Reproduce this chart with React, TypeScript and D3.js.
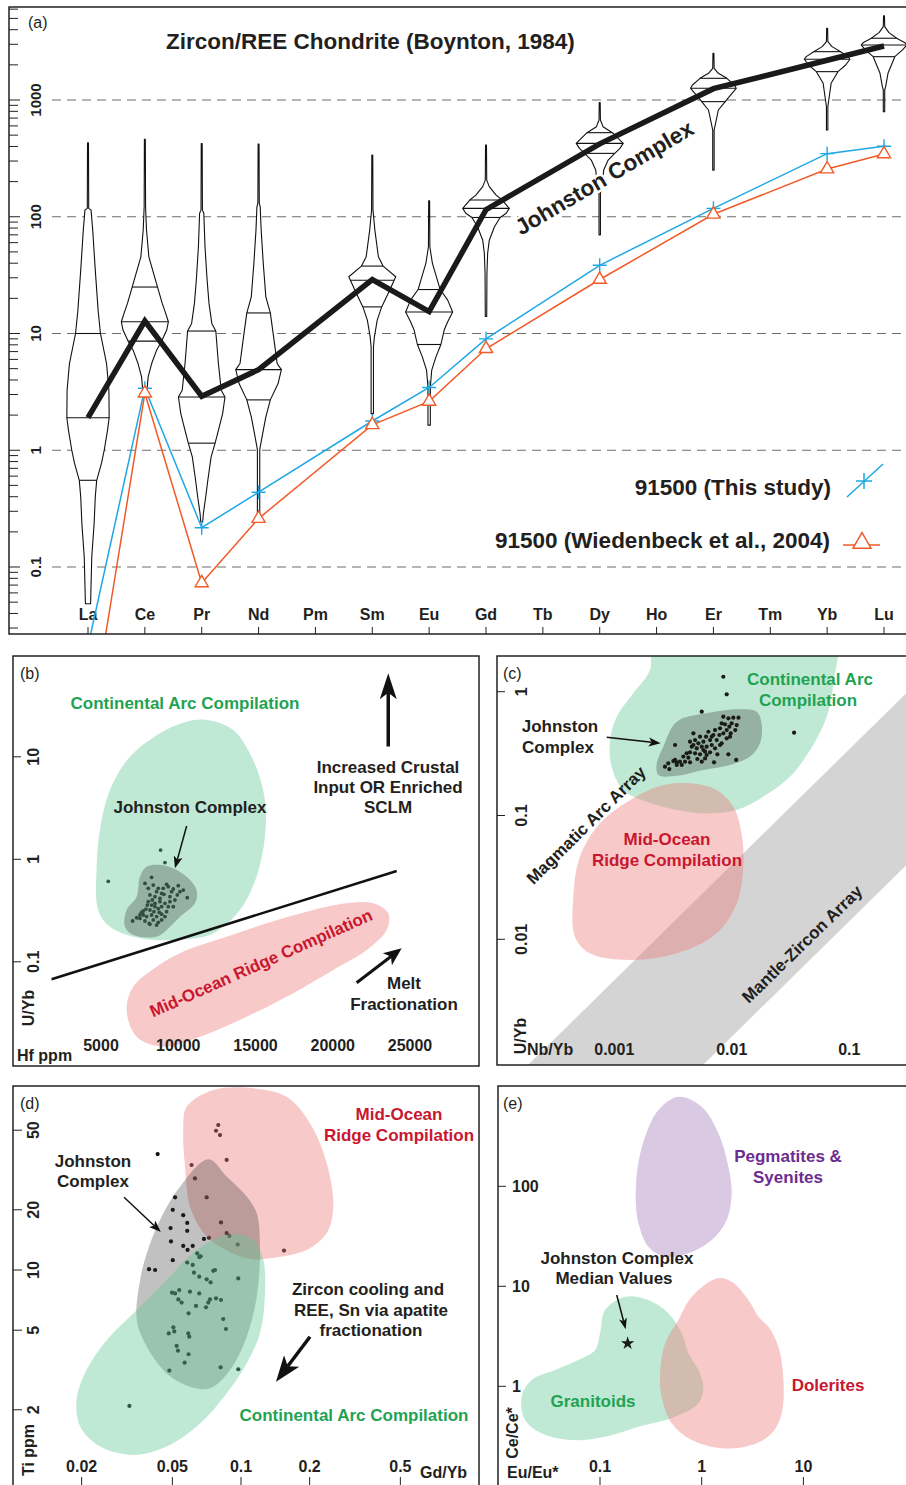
import React from 'react';
import * as d3 from 'd3';

type P = [number, number];

const FONT = '"Liberation Sans", Arial, Helvetica, sans-serif';
const INK = '#231f20';
const GREEN = '#5fc894';
const RED = '#ee7878';
const PURPLE = '#a078b9';
const GREEN_TXT = '#1fa352';
const RED_TXT = '#c8172f';
const PURPLE_TXT = '#6b2c91';
const BLUE = '#1ea7e4';
const ORANGE = '#f15a29';

// ---------- (a) zircon / chondrite REE ----------
const REE = ['La', 'Ce', 'Pr', 'Nd', 'Pm', 'Sm', 'Eu', 'Gd', 'Tb', 'Dy', 'Ho', 'Er', 'Tm', 'Yb', 'Lu'];
const reeMajorTicks = [0.1, 1, 10, 100, 1000];

const johnstonMedian: [string, number][] = [
  ['La', 1.9], ['Ce', 12.8], ['Pr', 2.9], ['Nd', 4.9], ['Sm', 29], ['Eu', 15.4],
  ['Gd', 115], ['Dy', 421], ['Er', 1250], ['Yb', 2190], ['Lu', 2900],
];
const study91500: [string, number][] = [
  ['La', 0.021], ['Ce', 3.4], ['Pr', 0.217], ['Nd', 0.437], ['Sm', 1.78], ['Eu', 3.45],
  ['Gd', 9.0], ['Dy', 38.4], ['Er', 118], ['Yb', 347], ['Lu', 402],
];
const wiedenbeck91500: [string, number][] = [
  ['La', 0.0031], ['Ce', 3.08], ['Pr', 0.073], ['Nd', 0.26], ['Sm', 1.65], ['Eu', 2.62],
  ['Gd', 7.4], ['Dy', 29], ['Er', 105], ['Yb', 256], ['Lu', 345],
];

// violin outlines: [normalised value, relative density]
const laViolin: P[] = [[431, .02], [118, .03], [114, .13], [76.9, .2], [34.9, .31], [15.8, .43], [10, .53], [5.53, .79], [3.27, .89], [1.9, .9], [1.48, .83], [1, .69], [0.768, .57], [0.553, .37], [0.398, .31], [0.235, .26], [0.122, .16], [0.0485, .11]];
const ceViolin: P[] = [[460, .02], [122, .03], [76.9, .07], [45.4, .17], [25, .54], [18.1, .74], [14.8, .89], [12.6, 1], [10.7, .93], [8.6, .71], [7.2, .5], [5.53, .29], [4.25, .14], [3.27, .09], [2.86, .07]];
const prViolin: P[] = [[424, .02], [114, .03], [107, .09], [55.3, .14], [28.6, .23], [18.1, .31], [12.2, .43], [10.5, .6], [5.53, .71], [3.27, .83], [2.86, .99], [2.06, .89], [1.48, .71], [1.15, .57], [0.877, .4], [0.553, .26], [0.398, .17], [0.287, .07], [0.243, .04]];
const ndViolin: P[] = [[420, .02], [130, .03], [122, .07], [76.9, .11], [39.8, .2], [20.6, .31], [15, .5], [9.36, .64], [5.53, .79], [4.9, .97], [3.73, .83], [2.7, .5], [1.93, .31], [1.48, .2], [1.07, .07], [1, .05], [0.251, .05]];
const smViolin: P[] = [[337, .02], [114, .03], [76.9, .11], [45.4, .26], [37.8, .46], [30.6, 1], [28.6, .93], [23.5, .74], [16.9, .4], [13, .21], [9.36, .09], [7.69, .05], [2.06, .05]];
const euViolin: P[] = [[137, .02], [55.3, .03], [39.8, .14], [30.6, .31], [23.8, .47], [19.3, .79], [15.3, 1], [12.6, .79], [10.7, .64], [8.05, .5], [6.31, .29], [4.85, .11], [3.49, .05], [1.64, .05]];
const gdViolin: P[] = [[411, .02], [206, .03], [181, .14], [153, .43], [139, .69], [118, .99], [107, .86], [98.6, .6], [82, .36], [63, .14], [48.5, .07], [32.7, .04], [14, .03]];
const dyViolin: P[] = [[950, .02], [674, .03], [591, .14], [525, .54], [454, .86], [425, 1], [385, .86], [349, .64], [306, .36], [251, .17], [181, .09], [158, .03], [70, .03]];
const erViolin: P[] = [[2512, .02], [1868, .03], [1693, .21], [1534, .57], [1344, .89], [1259, .97], [1140, .79], [968, .5], [821, .21], [631, .09], [553, .03], [251, .03]];
const ybViolin: P[] = [[4110, .02], [3162, .03], [2865, .21], [2594, .57], [2352, .89], [2232, .97], [1995, .79], [1749, .46], [1389, .17], [1000, .07], [877, .03], [553, .03]];
const luViolin: P[] = [[5250, .02], [4254, .03], [3776, .21], [3380, .54], [3097, .89], [2960, .97], [2683, .79], [2350, .46], [1693, .17], [1301, .07], [1218, .03], [794, .03]];

const violinQuartiles: [string, number[]][] = [
  ['La', [10, 1.9, 0.553]], ['Ce', [25, 12.6, 8.6]], ['Pr', [10.5, 2.86, 1.15]], ['Nd', [15, 4.9, 2.7]],
  ['Sm', [37.8, 28.6, 16.9]], ['Eu', [23.8, 15.3, 8.05]], ['Gd', [139, 118, 98.6]], ['Dy', [525, 425, 349]],
  ['Er', [1534, 1259, 968]], ['Yb', [2594, 2232, 1749]], ['Lu', [3380, 2960, 2350]],
];

// ---------- (b) U/Yb vs Hf ----------
const hfTicks = [5000, 10000, 15000, 20000, 25000];
const uybTicksB = [0.1, 1, 10];
const bJohnston: P[] = [
  [8275, 0.667], [7844, 0.582], [8060, 0.521], [8383, 0.561], [8707, 0.521], [8923, 0.465], [9246, 0.57], [9354, 0.541], [9678, 0.513], [10001, 0.553],
  [10109, 0.483], [10325, 0.501], [10583, 0.422], [8168, 0.449], [8491, 0.432], [8815, 0.416], [9074, 0.455], [9462, 0.432], [9785, 0.401], [8060, 0.386],
  [8275, 0.358], [8491, 0.372], [8815, 0.386], [9138, 0.372], [7909, 0.327], [8168, 0.32], [8426, 0.308], [8707, 0.33], [8923, 0.345], [9246, 0.308],
  [7736, 0.286], [7952, 0.276], [8275, 0.286], [8599, 0.276], [8923, 0.291], [7521, 0.265], [7844, 0.25], [8124, 0.237], [8383, 0.256], [8707, 0.243],
  [7046, 0.25], [7305, 0.269], [7628, 0.304], [9462, 0.386], [9678, 0.345], [9936, 0.449], [9570, 0.483], [9030, 0.521], [8599, 0.483], [8318, 0.401],
  [7995, 0.358], [7736, 0.313], [8168, 0.232], [8599, 0.228], [8923, 0.256], [9138, 0.276], [7521, 0.286], [8491, 0.345], [9354, 0.345], [8772, 0.304],
  [8858, 1.23], [9138, 0.93], [5471, 0.61],
];
const bArc: P[] = [[11840, 22.9], [13560, 18.3], [14850, 9.3], [15610, 3.8], [15610, 1.66], [15070, 0.68], [13990, 0.32], [12270, 0.19], [10540, 0.166], [7520, 0.17], [5580, 0.22], [4820, 0.32], [4720, 0.85], [4930, 1.93], [5580, 4.75], [6870, 10], [8820, 17], [10540, 22]];
const bJohnstonField: P[] = [[7955, 0.847], [9249, 0.86], [10544, 0.676], [11191, 0.5], [11081, 0.372], [10110, 0.275], [9249, 0.204], [8602, 0.176], [7087, 0.183], [6550, 0.22], [6660, 0.32], [7307, 0.432], [7521, 0.676]];
const bMor: P[] = [[22621, 0.372], [23592, 0.297], [23489, 0.204], [22194, 0.13], [20032, 0.0832], [17443, 0.0493], [14427, 0.0291], [11405, 0.0186], [9029, 0.0149], [7307, 0.0186], [6660, 0.0339], [7087, 0.0571], [8602, 0.0896], [10544, 0.13], [13133, 0.176], [15722, 0.2375], [18311, 0.308], [20900, 0.372]];
const bDivider: P[] = [[1800, 0.0675], [24140, 0.77]];

// ---------- (c) U/Yb vs Nb/Yb ----------
const nbTicks = [0.001, 0.01, 0.1];
const uybTicksC = [0.01, 0.1, 1];
const cJohnston: P[] = [
  [0.00847, 0.628], [0.00935, 0.609], [0.0103, 0.617], [0.0114, 0.617], [0.011, 0.538], [0.00998, 0.555], [0.00953, 0.522], [0.00875, 0.545], [0.0082, 0.555], [0.00794, 0.506],
  [0.00905, 0.49], [0.00979, 0.461], [0.0107, 0.49], [0.00966, 0.433], [0.00847, 0.461], [0.00783, 0.447], [0.0072, 0.49], [0.00697, 0.447], [0.00632, 0.475], [0.00604, 0.433],
  [0.00653, 0.407], [0.00573, 0.395], [0.00537, 0.433], [0.00519, 0.383], [0.00471, 0.461], [0.00487, 0.407], [0.00441, 0.395], [0.00456, 0.36], [0.00503, 0.349], [0.00555, 0.36],
  [0.00611, 0.36], [0.00675, 0.371], [0.0072, 0.349], [0.00794, 0.371], [0.0082, 0.383], [0.00754, 0.312], [0.00653, 0.324], [0.00592, 0.328], [0.00537, 0.312], [0.00487, 0.318],
  [0.00441, 0.324], [0.00427, 0.293], [0.00387, 0.299], [0.00362, 0.272], [0.0034, 0.269], [0.00318, 0.275], [0.00288, 0.264], [0.0027, 0.248], [0.00294, 0.237], [0.00329, 0.281],
  [0.004, 0.272], [0.00441, 0.269], [0.00375, 0.256], [0.0034, 0.256], [0.00555, 0.272], [0.00592, 0.289], [0.00706, 0.269], [0.00935, 0.312], [0.0109, 0.281], [0.00611, 0.308],
  [0.00329, 0.371], [0.00413, 0.318], [0.00509, 0.286], [0.00573, 0.338], [0.00905, 0.42], [0.00675, 0.433], [0.00471, 0.371], [0.00744, 0.407],
  [0.00847, 1.32], [0.00905, 0.952], [0.00555, 0.69], [0.0339, 0.467],
];
const cArc: P[] = [[0.0022, 3], [0.0731, 3], [0.0731, 1.17], [0.0643, 0.628], [0.0464, 0.338], [0.0313, 0.206], [0.0185, 0.142], [0.011, 0.111], [0.0061, 0.104], [0.0034, 0.111], [0.00189, 0.129], [0.00119, 0.161], [0.00095, 0.248], [0.00092, 0.407], [0.00105, 0.628], [0.00145, 0.97], [0.00201, 1.5]];
const cJohnstonField: P[] = [[0.0034, 0.573], [0.0061, 0.669], [0.01175, 0.721], [0.0163, 0.689], [0.0179, 0.556], [0.0174, 0.383], [0.0143, 0.299], [0.00966, 0.256], [0.00571, 0.233], [0.0034, 0.209], [0.00237, 0.212], [0.0023, 0.264], [0.00261, 0.36]];
const cMor: P[] = [[0.0044, 0.182], [0.00743, 0.161], [0.0103, 0.118], [0.0121, 0.0718], [0.01253, 0.0386], [0.011, 0.0195], [0.00743, 0.0112], [0.0034, 0.0077], [0.00136, 0.0068], [0.00062, 0.0077], [0.000463, 0.0105], [0.000448, 0.0221], [0.00051, 0.0465], [0.000755, 0.0865], [0.00136, 0.133], [0.00261, 0.176]];
const cMantleZircon: P[] = [[5.4e-5, 3.07e-4], [1, 2.94], [1, 0.12], [1.66e-3, 3.07e-4]];

// ---------- (d) Ti vs Gd/Yb ----------
const gdTicks = [0.02, 0.05, 0.1, 0.2, 0.5];
const tiTicks = [2, 5, 10, 20, 50];
const dJohnston: P[] = [
  [0.0795, 53.1], [0.0777, 49.7], [0.0809, 47.3], [0.0431, 38.0], [0.0865, 35.5], [0.0607, 33.5], [0.0628, 28.7], [0.0707, 23.1], [0.0514, 23.1], [0.0502, 20.0],
  [0.0558, 18.8], [0.0581, 17.2], [0.0581, 15.7], [0.0491, 16.2], [0.0817, 17.3], [0.0865, 15.3], [0.0889, 14.8], [0.0724, 14.5], [0.0688, 14.3], [0.0967, 13.4],
  [0.0493, 13.9], [0.0558, 13.2], [0.0583, 12.6], [0.0614, 13.2], [0.1544, 12.5], [0.0643, 12.1], [0.0656, 11.6], [0.0665, 11.7], [0.0502, 11.2], [0.0581, 10.9],
  [0.0614, 10.6], [0.0395, 10.1], [0.042, 10.0], [0.0756, 9.9], [0.0769, 10.0], [0.0622, 9.7], [0.0656, 9.26], [0.0707, 8.98], [0.0736, 8.68], [0.0973, 9.08],
  [0.0536, 7.94], [0.0498, 7.7], [0.0514, 7.64], [0.0597, 7.79], [0.0656, 7.64], [0.0531, 7.13], [0.0549, 6.87], [0.0731, 7.13], [0.0777, 7.22], [0.0817, 7.08],
  [0.0719, 6.87], [0.0702, 6.51], [0.0635, 6.61], [0.0589, 6.07], [0.0836, 5.69], [0.0859, 5.07], [0.0505, 5.17], [0.051, 4.93], [0.0482, 4.82], [0.0587, 4.82],
  [0.0593, 4.64], [0.0522, 4.17], [0.0529, 3.95], [0.0589, 3.79], [0.0566, 3.44], [0.0485, 3.14], [0.0814, 3.26], [0.0973, 3.19], [0.0324, 2.09],
];
const dMor: P[] = [[0.0578, 65.5], [0.0756, 79.4], [0.1132, 81], [0.1585, 73.5], [0.2007, 54.2], [0.2377, 34.2], [0.254, 20.7], [0.2377, 15.3], [0.1942, 12.6], [0.1297, 11.4], [0.1132, 11.3], [0.0925, 12.1], [0.0707, 14.7], [0.0598, 20.7], [0.0568, 32.9], [0.0558, 50.1]];
const dJohnstonField: P[] = [[0.0719, 35.8], [0.0866, 29.3], [0.1059, 23.3], [0.1172, 19.2], [0.1211, 13.1], [0.1172, 7.35], [0.1059, 4.64], [0.0895, 3.16], [0.0731, 2.56], [0.0598, 2.61], [0.0472, 3.04], [0.0386, 4.14], [0.0349, 5.62], [0.0361, 8.91], [0.0386, 12.1], [0.0441, 17.8], [0.054, 26.1]];
const dArc: P[] = [[0.0895, 15.1], [0.1132, 14.1], [0.1253, 11.2], [0.1274, 7.65], [0.1211, 4.83], [0.1059, 3.42], [0.0866, 2.42], [0.0661, 1.71], [0.0472, 1.31], [0.0337, 1.19], [0.0241, 1.31], [0.0197, 1.65], [0.019, 2.24], [0.021, 3.16], [0.0258, 4.47], [0.0349, 6.31], [0.0472, 8.91], [0.0639, 12.6]];

// ---------- (e) Ce/Ce* vs Eu/Eu* ----------
const euTicks = [0.1, 1, 10];
const ceTicks = [1, 10, 100];
const ePegmatites: P[] = [[0.59, 787], [1.0, 625], [1.459, 339], [1.83, 157], [1.97, 85.1], [1.76, 46], [1.254, 29], [0.74, 21.4], [0.436, 19.8], [0.299, 24.9], [0.239, 42.7], [0.2245, 72.9], [0.235, 157], [0.2777, 313], [0.375, 579]];
const eGranitoids: P[] = [[0.1766, 7.87], [0.299, 7.29], [0.4707, 5.37], [0.636, 3.39], [0.74, 2.14], [0.928, 1.455], [1.039, 0.991], [0.928, 0.676], [0.5474, 0.497], [0.2385, 0.394], [0.1122, 0.313], [0.0527, 0.29], [0.0267, 0.339], [0.01834, 0.46], [0.01698, 0.787], [0.0213, 1.156], [0.0362, 1.455], [0.0613, 1.832], [0.0895, 2.307], [0.1002, 3.39], [0.1122, 5.79]];
const eDolerites: P[] = [[1.404, 12], [1.972, 11.1], [2.879, 7.29], [3.61, 4.97], [4.53, 3.94], [5.68, 2.49], [6.36, 1.156], [6.12, 0.537], [4.88, 0.339], [3.1, 0.259], [1.573, 0.24], [0.797, 0.29], [0.507, 0.427], [0.404, 0.787], [0.39, 1.349], [0.437, 2.69], [0.59, 4.6], [0.797, 7.87]];
const eMedian: P = [0.187, 2.69];

// ---------- helpers ----------
function T({ x, y, children, size = 17, fill = INK, anchor = 'middle', weight = 'bold', rotate = 0, halo = false }: any) {
  return (
    <text x={x} y={y} dy="0.35em" fontSize={size} fill={fill} textAnchor={anchor} fontWeight={weight}
      fontFamily={FONT} transform={rotate ? `rotate(${rotate},${x},${y})` : undefined}
      stroke={halo ? '#fff' : undefined} strokeWidth={halo ? 5 : undefined} paintOrder="stroke" strokeLinejoin="round">
      {children}
    </text>
  );
}

function Arrow({ from, to, head = 12, width = 9, sw = 1.5 }: any) {
  const dx = to[0] - from[0], dy = to[1] - from[1];
  const len = Math.hypot(dx, dy);
  const ux = dx / len, uy = dy / len;
  const bx = to[0] - ux * head, by = to[1] - uy * head;
  const nx = to[0] - ux * head * 0.75, ny = to[1] - uy * head * 0.75;
  const px = -uy * width / 2, py = ux * width / 2;
  return (
    <g>
      <line x1={from[0]} y1={from[1]} x2={nx} y2={ny} stroke="#111" strokeWidth={sw} />
      <polygon points={`${to[0]},${to[1]} ${bx + px},${by + py} ${nx},${ny} ${bx - px},${by - py}`} fill="#111" />
    </g>
  );
}

function Frame({ fr }: any) {
  return <rect x={fr.x0} y={fr.y0} width={fr.x1 - fr.x0} height={fr.y1 - fr.y0} fill="none" stroke="#222" strokeWidth={1.5} />;
}

function Clip({ id, fr }: any) {
  return <defs><clipPath id={id}><rect x={fr.x0} y={fr.y0} width={fr.x1 - fr.x0} height={fr.y1 - fr.y0} /></clipPath></defs>;
}

const blobOf = (x: any, y: any) =>
  d3.line<P>().x(d => x(d[0])).y(d => y(d[1])).curve(d3.curveCatmullRomClosed.alpha(0.5));

// ---------- panels ----------
function PanelA() {
  const fr = { x0: 9, y0: 7, x1: 914, y1: 634 };
  const x = d3.scalePoint<string>().domain(REE).range([88, 884]);
  const y = d3.scaleLog().domain([0.1, 1000]).range([567, 100]);
  const vw = d3.scaleLinear().domain([0, 1]).range([0, 23.5]);
  const minor: number[] = [];
  for (let e = -2; e <= 3; e++) for (let k = 2; k <= 9; k++) {
    const v = k * Math.pow(10, e);
    const py = y(v);
    if (py > fr.y0 + 2 && py < fr.y1 - 2) minor.push(v);
  }
  const violins: [string, P[]][] = [
    ['La', laViolin], ['Ce', ceViolin], ['Pr', prViolin], ['Nd', ndViolin], ['Sm', smViolin], ['Eu', euViolin],
    ['Gd', gdViolin], ['Dy', dyViolin], ['Er', erViolin], ['Yb', ybViolin], ['Lu', luViolin],
  ];
  const quart = new Map(violinQuartiles);
  const line = d3.line<[string, number]>().x(d => x(d[0])!).y(d => y(d[1]));
  const tri = d3.symbol(d3.symbolTriangle, 75)()!;
  const triLegend = d3.symbol(d3.symbolTriangle, 140)()!;
  const plus = (cx: number, cy: number, r = 7) => `M${cx - r},${cy}H${cx + r}M${cx},${cy - r}V${cy + r}`;
  return (
    <g>
      <Clip id="clipA" fr={fr} />
      {reeMajorTicks.map(v => (
        <line key={'g' + v} x1={52} x2={fr.x1} y1={y(v)} y2={y(v)} stroke="#6d6d6d" strokeWidth={1} strokeDasharray="9,6" />
      ))}
      {minor.map(v => <line key={'m' + v} x1={fr.x0} x2={fr.x0 + 9} y1={y(v)} y2={y(v)} stroke="#222" strokeWidth={1} />)}
      {reeMajorTicks.map(v => (
        <g key={'t' + v}>
          <line x1={fr.x0} x2={fr.x0 + 11} y1={y(v)} y2={y(v)} stroke="#222" strokeWidth={1} />
          <T x={35.5} y={y(v)} size={15} rotate={-90}>{String(v)}</T>
        </g>
      ))}
      {REE.map(el => (
        <g key={el}>
          <line x1={x(el)} x2={x(el)} y1={fr.y1} y2={fr.y1 - 7} stroke="#222" strokeWidth={1} />
          <T x={x(el)} y={614} size={16}>{el}</T>
        </g>
      ))}
      <g clipPath="url(#clipA)">
        {violins.map(([el, outline]) => {
          const cx = x(el)!;
          const area = d3.area<P>().y(d => y(d[0])).x0(d => cx - vw(d[1])).x1(d => cx + vw(d[1]));
          const sorted = [...outline].sort((a, b) => a[0] - b[0]);
          const hw = d3.scaleLog().domain(sorted.map(d => d[0])).range(sorted.map(d => vw(d[1])));
          return (
            <g key={'v' + el}>
              <path d={area(outline)!} fill="#fff" stroke="#111" strokeWidth={1.1} strokeLinejoin="round" />
              {(quart.get(el) || []).map(v => (
                <line key={v} x1={cx - hw(v)} x2={cx + hw(v)} y1={y(v)} y2={y(v)} stroke="#111" strokeWidth={1.1} />
              ))}
            </g>
          );
        })}
        <path d={line(study91500)!} fill="none" stroke={BLUE} strokeWidth={1.5} />
        <path d={line(wiedenbeck91500)!} fill="none" stroke={ORANGE} strokeWidth={1.5} />
        {study91500.map(d => <path key={'b' + d[0]} d={plus(x(d[0])!, y(d[1]))} stroke={BLUE} strokeWidth={1.4} />)}
        {wiedenbeck91500.map(d => (
          <path key={'o' + d[0]} d={tri} transform={`translate(${x(d[0])},${y(d[1])})`} fill="#fff" stroke={ORANGE} strokeWidth={1.4} />
        ))}
        <path d={line(johnstonMedian)!} fill="none" stroke="#1a1a1a" strokeWidth={5.5} strokeLinejoin="miter" />
      </g>
      <T x={517} y={229} size={22.5} rotate={-30.5} anchor="start" halo>Johnston Complex</T>
      <T x={28} y={22} size={16} anchor="start" weight="normal">(a)</T>
      <T x={166} y={41} size={22.5} anchor="start">Zircon/REE Chondrite (Boynton, 1984)</T>
      <T x={831} y={487} size={22.5} anchor="end">91500 (This study)</T>
      <line x1={847} y1={497} x2={883} y2={464} stroke={BLUE} strokeWidth={1.5} />
      <path d={plus(864, 481, 8)} stroke={BLUE} strokeWidth={1.5} />
      <T x={830} y={540} size={22.5} anchor="end">91500 (Wiedenbeck et al., 2004)</T>
      <line x1={843} y1={545} x2={880} y2={545} stroke={ORANGE} strokeWidth={1.5} />
      <path d={triLegend} transform="translate(862,543)" fill="#fff" stroke={ORANGE} strokeWidth={1.5} />
      <Frame fr={fr} />
    </g>
  );
}

function PanelB() {
  const fr = { x0: 13, y0: 656, x1: 479, y1: 1066 };
  const x = d3.scaleLinear().domain([5000, 25000]).range([101, 410]);
  const y = d3.scaleLog().domain([0.1, 10]).range([961.8, 756.8]);
  const blob = blobOf(x, y);
  const px = (d: P): P => [x(d[0]), y(d[1])];
  return (
    <g>
      <Clip id="clipB" fr={fr} />
      <g clipPath="url(#clipB)">
        {bJohnston.map((d, i) => <circle key={i} cx={x(d[0])} cy={y(d[1])} r={1.9} fill="#111" />)}
        <path d={blob(bArc)!} fill={GREEN} fillOpacity={0.4} />
        <path d={blob(bJohnstonField)!} fill="#333" fillOpacity={0.3} />
        <path d={blob(bMor)!} fill={RED} fillOpacity={0.4} />
        <line x1={x(bDivider[0][0])} y1={y(bDivider[0][1])} x2={x(bDivider[1][0])} y2={y(bDivider[1][1])} stroke="#111" strokeWidth={2.5} />
      </g>
      {uybTicksB.map(v => (
        <g key={v}>
          <line x1={fr.x0} x2={fr.x0 + 8} y1={y(v)} y2={y(v)} stroke="#222" />
          <T x={33} y={y(v)} size={16} rotate={-90}>{String(v)}</T>
        </g>
      ))}
      {hfTicks.map(v => <T key={v} x={x(v)} y={1045} size={16}>{String(v)}</T>)}
      <T x={17} y={1055} size={16} anchor="start">Hf ppm</T>
      <T x={28} y={1008} size={16} rotate={-90}>U/Yb</T>
      <T x={20} y={673} size={16} anchor="start" weight="normal">(b)</T>
      <T x={185} y={703} fill={GREEN_TXT}>Continental Arc Compilation</T>
      <T x={190} y={807}>Johnston Complex</T>
      <Arrow from={px([10544, 2.11])} to={px([9786, 0.817])} head={12} width={9} sw={1.5} />
      <Arrow from={px([23592, 12.6])} to={px([23592, 65.3])} head={26} width={17} sw={3.5} />
      <T x={388} y={767}>Increased Crustal</T>
      <T x={388} y={787}>Input OR Enriched</T>
      <T x={388} y={807}>SCLM</T>
      <T x={261} y={963} fill={RED_TXT} rotate={-24}>Mid-Ocean Ridge Compilation</T>
      <Arrow from={px([21547, 0.0625])} to={px([24460, 0.1354])} head={18} width={15} sw={3} />
      <T x={404} y={983}>Melt</T>
      <T x={404} y={1004}>Fractionation</T>
      <Frame fr={fr} />
    </g>
  );
}

function PanelC() {
  const fr = { x0: 497, y0: 656, x1: 914, y1: 1065 };
  const x = d3.scaleLog().domain([0.001, 0.1]).range([614.3, 849.3]);
  const y = d3.scaleLog().domain([0.01, 1]).range([939.3, 691.7]);
  const blob = blobOf(x, y);
  const band = d3.line<P>().x(d => x(d[0])).y(d => y(d[1]));
  const px = (d: P): P => [x(d[0]), y(d[1])];
  return (
    <g>
      <Clip id="clipC" fr={fr} />
      <g clipPath="url(#clipC)">
        <path d={band(cMantleZircon)! + 'Z'} fill="#d4d4d4" />
        <path d={blob(cArc)!} fill={GREEN} fillOpacity={0.4} />
        <path d={blob(cMor)!} fill={RED} fillOpacity={0.4} />
        <path d={blob(cJohnstonField)!} fill="#333" fillOpacity={0.3} />
        {cJohnston.map((d, i) => <circle key={i} cx={x(d[0])} cy={y(d[1])} r={2.1} fill="#1a1a1a" />)}
      </g>
      {uybTicksC.map(v => (
        <g key={v}>
          <line x1={fr.x0} x2={fr.x0 + 8} y1={y(v)} y2={y(v)} stroke="#222" />
          <T x={521} y={y(v)} size={16} rotate={-90}>{String(v)}</T>
        </g>
      ))}
      {nbTicks.map(v => <T key={v} x={x(v)} y={1049} size={16}>{String(v)}</T>)}
      <T x={527} y={1049} size={16} anchor="start">Nb/Yb</T>
      <T x={520} y={1036} size={16} rotate={-90}>U/Yb</T>
      <T x={503} y={673} size={16} anchor="start" weight="normal">(c)</T>
      <T x={810} y={679} fill={GREEN_TXT}>Continental Arc</T>
      <T x={808} y={700} fill={GREEN_TXT}>Compilation</T>
      <T x={560} y={726}>Johnston</T>
      <T x={558} y={747}>Complex</T>
      <Arrow from={px([0.000862, 0.428])} to={px([0.00248, 0.383])} head={12} width={9} sw={1.5} />
      <T x={586} y={825} rotate={-44.6}>Magmatic Arc Array</T>
      <T x={667} y={839} fill={RED_TXT}>Mid-Ocean</T>
      <T x={667} y={860} fill={RED_TXT}>Ridge Compilation</T>
      <T x={802} y={944} rotate={-44.2}>Mantle-Zircon Array</T>
      <Frame fr={fr} />
    </g>
  );
}

function PanelD() {
  const fr = { x0: 13, y0: 1086, x1: 479, y1: 1492 };
  const x = d3.scaleLog().domain([0.01, 1]).range([13, 469]);
  const y = d3.scaleLog().domain([1, 100]).range([1470, 1070]);
  const blob = blobOf(x, y);
  const px = (d: P): P => [x(d[0]), y(d[1])];
  return (
    <g>
      <Clip id="clipD" fr={fr} />
      <g clipPath="url(#clipD)">
        {dJohnston.map((d, i) => <circle key={i} cx={x(d[0])} cy={y(d[1])} r={2.1} fill="#111" />)}
        <path d={blob(dMor)!} fill={RED} fillOpacity={0.4} />
        <path d={blob(dJohnstonField)!} fill="#333" fillOpacity={0.3} />
        <path d={blob(dArc)!} fill={GREEN} fillOpacity={0.4} />
      </g>
      {tiTicks.map(v => (
        <g key={v}>
          <line x1={fr.x0} x2={fr.x0 + 9} y1={y(v)} y2={y(v)} stroke="#222" />
          <T x={33} y={y(v)} size={16} rotate={-90}>{String(v)}</T>
        </g>
      ))}
      {gdTicks.map(v => (
        <g key={v}>
          <line x1={x(v)} x2={x(v)} y1={fr.y1} y2={1477} stroke="#222" />
          <T x={x(v)} y={1466} size={16}>{String(v)}</T>
        </g>
      ))}
      <T x={420} y={1472} size={16} anchor="start">Gd/Yb</T>
      <T x={28} y={1450} size={16} rotate={-90}>Ti ppm</T>
      <T x={20} y={1103} size={16} anchor="start" weight="normal">(d)</T>
      <T x={399} y={1114} fill={RED_TXT}>Mid-Ocean</T>
      <T x={399} y={1135} fill={RED_TXT}>Ridge Compilation</T>
      <T x={93} y={1161}>Johnston</T>
      <T x={93} y={1181}>Complex</T>
      <Arrow from={px([0.0307, 23.1])} to={px([0.0445, 15.5])} head={12} width={9} sw={1.5} />
      <T x={368} y={1289}>Zircon cooling and</T>
      <T x={371} y={1310}>REE, Sn via apatite</T>
      <T x={371} y={1330}>fractionation</T>
      <Arrow from={px([0.2007, 4.64])} to={px([0.1424, 2.76])} head={26} width={19} sw={3.5} />
      <T x={354} y={1415} fill={GREEN_TXT}>Continental Arc Compilation</T>
      <Frame fr={fr} />
    </g>
  );
}

function PanelE() {
  const fr = { x0: 498, y0: 1086, x1: 914, y1: 1492 };
  const x = d3.scaleLog().domain([0.1, 10]).range([600, 803.4]);
  const y = d3.scaleLog().domain([1, 100]).range([1386.3, 1186.3]);
  const blob = blobOf(x, y);
  const px = (d: P): P => [x(d[0]), y(d[1])];
  const star = d3.symbol(d3.symbolStar, 55)()!;
  return (
    <g>
      <Clip id="clipE" fr={fr} />
      <g clipPath="url(#clipE)">
        <path d={blob(ePegmatites)!} fill={PURPLE} fillOpacity={0.4} />
        <path d={blob(eGranitoids)!} fill={GREEN} fillOpacity={0.4} />
        <path d={blob(eDolerites)!} fill={RED} fillOpacity={0.4} />
        <path d={star} transform={`translate(${x(eMedian[0])},${y(eMedian[1])})`} fill="#1a1a1a" />
      </g>
      {ceTicks.map(v => (
        <g key={v}>
          <line x1={fr.x0} x2={fr.x0 + 8} y1={y(v)} y2={y(v)} stroke="#222" />
          <T x={512} y={y(v)} size={16} anchor="start">{String(v)}</T>
        </g>
      ))}
      {euTicks.map(v => (
        <g key={v}>
          <line x1={x(v)} x2={x(v)} y1={fr.y1} y2={1477} stroke="#222" />
          <T x={x(v)} y={1466} size={16}>{String(v)}</T>
        </g>
      ))}
      <T x={507} y={1472} size={16} anchor="start">Eu/Eu*</T>
      <T x={512} y={1433} size={16} rotate={-90}>Ce/Ce*</T>
      <T x={503} y={1103} size={16} anchor="start" weight="normal">(e)</T>
      <T x={788} y={1156} fill={PURPLE_TXT}>{'Pegmatites &'}</T>
      <T x={788} y={1177} fill={PURPLE_TXT}>Syenites</T>
      <T x={617} y={1258}>Johnston Complex</T>
      <T x={614} y={1278}>Median Values</T>
      <Arrow from={px([0.146, 8.18])} to={px([0.179, 3.72])} head={11} width={8} sw={1.5} />
      <T x={593} y={1401} fill={GREEN_TXT}>Granitoids</T>
      <T x={828} y={1385} fill={RED_TXT}>Dolerites</T>
      <Frame fr={fr} />
    </g>
  );
}

export default function App() {
  return (
    <div style={{ position: 'absolute', left: 0, top: 0, background: '#fff' }}>
      <svg width={906} height={1485} viewBox="0 0 906 1485" style={{ display: 'block' }}>
        <rect width={906} height={1485} fill="#fff" />
        <PanelA />
        <PanelB />
        <PanelC />
        <PanelD />
        <PanelE />
      </svg>
    </div>
  );
}
